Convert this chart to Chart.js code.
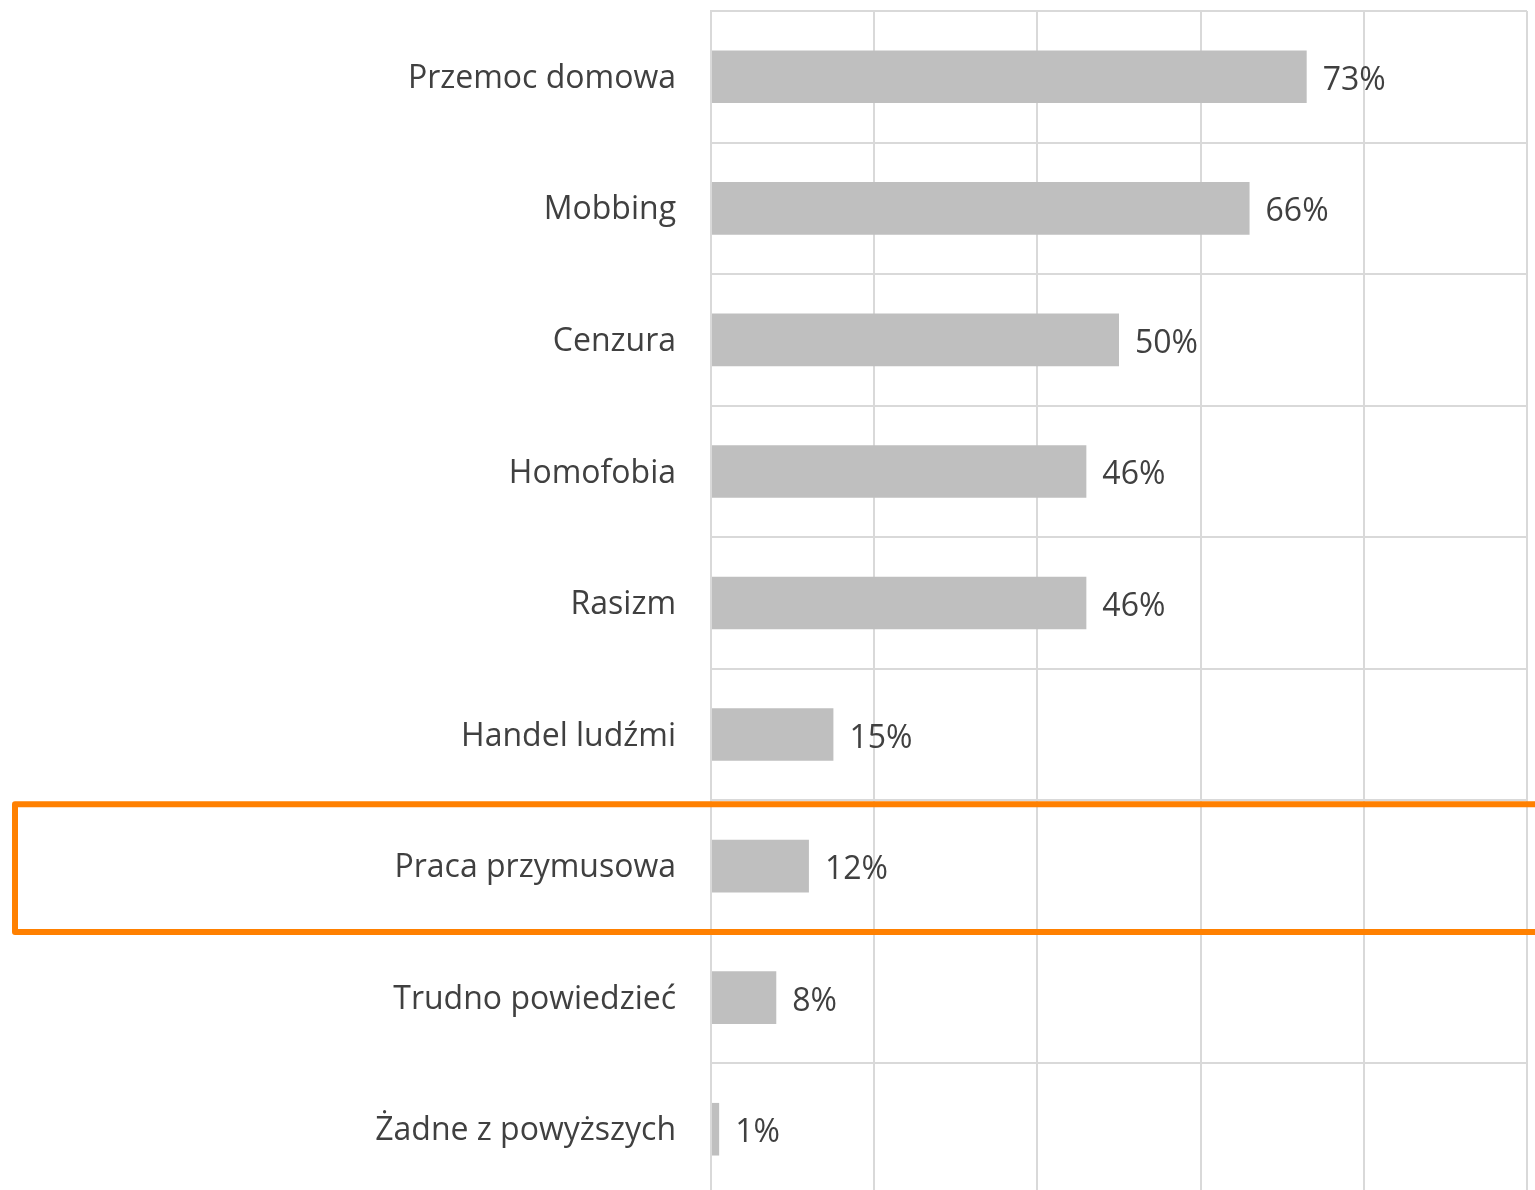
<!DOCTYPE html>
<html>
<head>
<meta charset="utf-8">
<script src="https://cdn.jsdelivr.net/npm/chart.js@4/dist/chart.umd.min.js"></script>
<style>
html,body{margin:0;padding:0;background:#fff;overflow:hidden;}
#wrap{position:relative;width:1535px;height:1190px;overflow:hidden;}
canvas{display:block;}
</style>
</head>
<body>
<div id="wrap"><canvas id="c" width="1535" height="1195"></canvas></div>
<script>
const categories = ["Przemoc domowa","Mobbing","Cenzura","Homofobia","Rasizm","Handel ludźmi","Praca przymusowa","Trudno powiedzieć","Żadne z powyższych"];
const values = [73,66,50,46,46,15,12,8,1];
const highlightIndex = 6;

const FONT = "'Open Sans', Lato, sans-serif";
const TEXT = "#404040";

const valueLabels = {
  id: 'valueLabels',
  afterDatasetsDraw(chart){
    const ctx = chart.ctx;
    const meta = chart.getDatasetMeta(0);
    ctx.save();
    ctx.font = "32px " + FONT;
    ctx.fillStyle = TEXT;
    ctx.textAlign = 'left';
    ctx.textBaseline = 'alphabetic';
    meta.data.forEach((bar,i)=>{
      ctx.fillText(values[i] + '%', bar.x + 16, bar.y + 13);
    });
    ctx.restore();
  }
};

const highlight = {
  id: 'highlight',
  afterDraw(chart){
    const y = chart.scales.y;
    const c = y.getPixelForValue(highlightIndex);
    const step = y.getPixelForValue(1) - y.getPixelForValue(0);
    const top = c - step/2 + 4;
    const bottom = c + step/2;
    const ctx = chart.ctx;
    ctx.save();
    ctx.strokeStyle = '#ff8000';
    ctx.lineWidth = 6;
    ctx.lineJoin = 'round';
    ctx.strokeRect(15, top, chart.width + 20, bottom - top);
    ctx.restore();
  }
};

new Chart(document.getElementById('c'), {
  type: 'bar',
  data: {
    labels: categories,
    datasets: [{
      data: values,
      backgroundColor: '#bfbfbf',
      borderWidth: 0,
      barPercentage: 0.4,
      categoryPercentage: 1.0
    }]
  },
  options: {
    indexAxis: 'y',
    responsive: false,
    animation: false,
    layout: { padding: { top: 11, right: 8, bottom: 0, left: 0 } },
    plugins: { legend: { display: false }, tooltip: { enabled: false } },
    scales: {
      x: {
        min: 0, max: 100,
        ticks: { display: false, stepSize: 20, padding: 0 },
        grid: { color: '#d9d9d9', lineWidth: 2, drawTicks: false },
        border: { display: false },
        afterFit(scale){ scale.height = 0; scale.paddingLeft = 0; scale.paddingRight = 0; }
      },
      y: {
        ticks: { color: TEXT, font: { family: FONT, size: 32 }, padding: 35, labelOffset: 2 },
        grid: { color: '#d9d9d9', lineWidth: 2, drawTicks: false, offset: true },
        border: { color: '#d9d9d9', width: 2 },
        afterFit(scale){ scale.width = 711; scale.paddingTop = 0; scale.paddingBottom = 0; }
      }
    }
  },
  plugins: [valueLabels, highlight]
});
</script>
</body>
</html>
